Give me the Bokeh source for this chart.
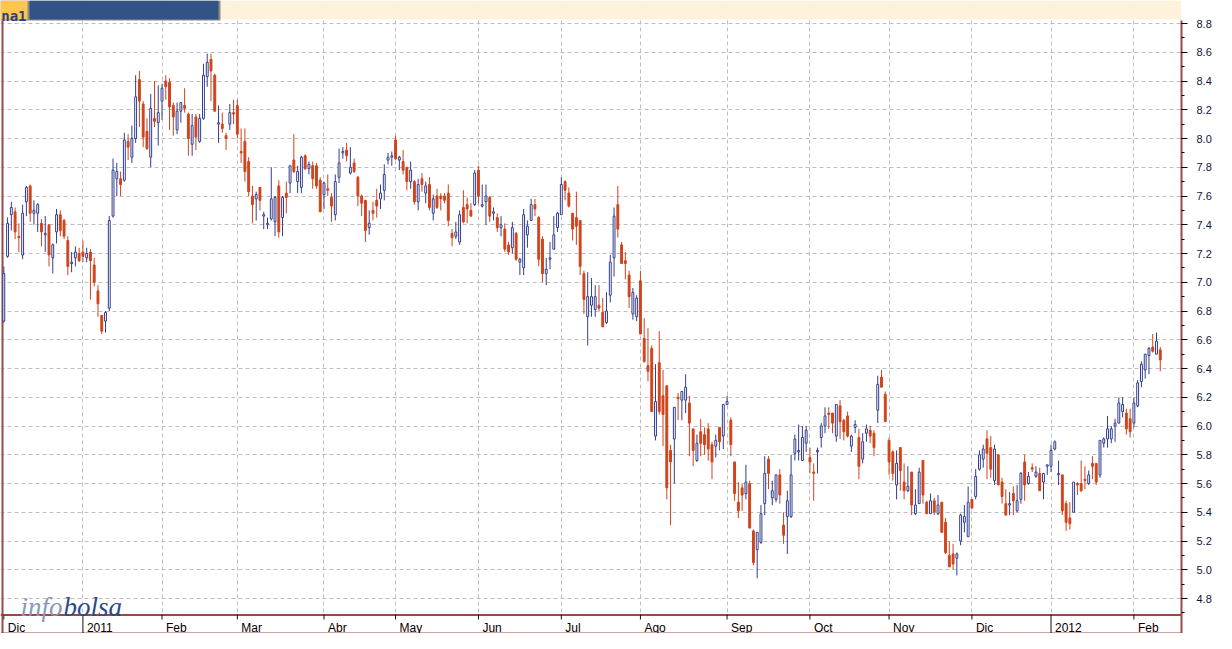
from bokeh.plotting import figure
from bokeh.models import ColumnDataSource, FixedTicker, LinearAxis, Grid, Range1d, PrintfTickFormatter
from bokeh.core.properties import value
from bokeh.embed import file_html
from bokeh.resources import INLINE

# ---------------- data (trading-day index, daily OHLC) ----------------
opens = [
    6.73, 7.18, 7.47, 7.49, 7.32, 7.19, 7.56, 7.67, 7.48, 7.48,
    7.41, 7.33, 7.40, 7.17, 7.35, 7.47, 7.43, 7.29, 7.13, 7.17,
    7.20, 7.21, 7.17, 7.21, 7.12, 6.94, 6.77, 6.73, 6.82, 7.46,
    7.72, 7.72, 7.71, 7.98, 7.87, 8.00, 8.41, 8.24, 8.05, 7.87,
    8.14, 8.11, 8.26, 8.40, 8.39, 8.23, 8.06, 8.19, 8.23, 8.17,
    7.96, 8.15, 7.98, 8.14, 8.43, 8.55, 8.44, 8.10, 8.10, 8.02,
    8.10, 8.18, 8.23, 7.91, 7.98, 7.84, 7.60, 7.58, 7.66, 7.46,
    7.40, 7.44, 7.42, 7.67, 7.45, 7.62, 7.69, 7.85, 7.70, 7.66,
    7.88, 7.79, 7.81, 7.81, 7.71, 7.61, 7.65, 7.59, 7.47, 7.73,
    7.90, 7.92, 7.76, 7.83, 7.73, 7.60, 7.57, 7.38, 7.50, 7.57,
    7.58, 7.64, 7.85, 7.87, 7.99, 7.85, 7.84, 7.80, 7.70, 7.70,
    7.56, 7.72, 7.62, 7.68, 7.48, 7.60, 7.60, 7.60, 7.62, 7.34,
    7.32, 7.28, 7.52, 7.54, 7.50, 7.54, 7.78, 7.53, 7.56, 7.59,
    7.48, 7.45, 7.38, 7.37, 7.26, 7.24, 7.34, 7.14, 7.10, 7.33,
    7.43, 7.54, 7.45, 7.30, 7.06, 7.16, 7.23, 7.38, 7.47, 7.70,
    7.62, 7.48, 7.45, 7.43, 7.06, 6.76, 6.84, 6.81, 6.84, 6.79,
    6.72, 6.91, 7.17, 7.54, 7.26, 7.15, 7.05, 6.78, 6.76, 7.01,
    6.61, 6.42, 6.54, 5.93, 6.44, 6.21, 6.28, 5.83, 5.91, 6.20,
    6.18, 6.18, 6.16, 5.98, 5.76, 5.96, 5.94, 5.98, 5.87, 5.86,
    5.99, 5.93, 6.15, 6.04, 5.75, 5.47, 5.57, 5.53, 5.60, 5.27,
    5.14, 5.19, 5.46, 5.77, 5.50, 5.49, 5.66, 5.31, 5.37, 5.37,
    5.81, 5.82, 5.76, 5.88, 5.78, 5.68, 5.82, 5.92, 6.00, 6.09,
    6.09, 5.93, 6.14, 6.04, 6.07, 5.86, 5.99, 5.92, 5.77, 5.95,
    5.97, 5.95, 6.11, 6.34, 6.22, 5.90, 5.82, 5.59, 5.85, 5.61,
    5.55, 5.68, 5.39, 5.46, 5.76, 5.47, 5.39, 5.48, 5.39, 5.47,
    5.33, 5.10, 5.11, 5.08, 5.20, 5.33, 5.23, 5.49, 5.51, 5.70,
    5.77, 5.91, 5.85, 5.62, 5.80, 5.61, 5.46, 5.45, 5.53, 5.41,
    5.49, 5.75, 5.60, 5.71, 5.65, 5.67, 5.61, 5.72, 5.72, 5.84,
    5.66, 5.66, 5.46, 5.36, 5.40, 5.60, 5.60, 5.63, 5.60, 5.74,
    5.74, 5.66, 5.88, 5.91, 5.91, 6.00, 6.02, 6.10, 6.09, 6.05,
    6.02, 6.14, 6.31, 6.39, 6.49, 6.55, 6.50, 6.53,
]
highs = [
    7.11, 7.45, 7.56, 7.52, 7.41, 7.54, 7.67, 7.68, 7.57, 7.55,
    7.44, 7.46, 7.40, 7.27, 7.51, 7.50, 7.44, 7.32, 7.21, 7.25,
    7.24, 7.29, 7.24, 7.23, 7.17, 6.98, 6.77, 6.80, 7.46, 7.86,
    7.83, 7.77, 8.04, 8.03, 8.09, 8.44, 8.47, 8.26, 8.14, 8.31,
    8.40, 8.37, 8.38, 8.44, 8.42, 8.25, 8.25, 8.25, 8.35, 8.18,
    8.17, 8.17, 8.17, 8.52, 8.59, 8.59, 8.45, 8.23, 8.18, 8.04,
    8.24, 8.27, 8.27, 8.07, 8.07, 7.87, 7.67, 7.63, 7.66, 7.49,
    7.45, 7.80, 7.60, 7.71, 7.60, 7.70, 7.81, 8.03, 7.81, 7.88,
    7.89, 7.84, 7.84, 7.83, 7.73, 7.70, 7.75, 7.62, 7.75, 7.93,
    7.94, 7.97, 7.94, 7.86, 7.74, 7.61, 7.57, 7.50, 7.56, 7.65,
    7.68, 7.82, 7.90, 7.91, 8.02, 7.88, 7.92, 7.80, 7.84, 7.71,
    7.72, 7.76, 7.70, 7.73, 7.61, 7.65, 7.62, 7.62, 7.68, 7.37,
    7.42, 7.50, 7.64, 7.59, 7.55, 7.78, 7.81, 7.68, 7.68, 7.60,
    7.52, 7.48, 7.46, 7.41, 7.28, 7.42, 7.35, 7.17, 7.51, 7.43,
    7.58, 7.58, 7.46, 7.32, 7.17, 7.28, 7.46, 7.49, 7.73, 7.71,
    7.66, 7.48, 7.63, 7.43, 7.08, 7.07, 7.03, 6.98, 6.98, 6.89,
    6.93, 7.19, 7.52, 7.67, 7.28, 7.21, 7.08, 6.96, 6.91, 7.08,
    6.75, 6.68, 6.56, 6.43, 6.66, 6.39, 6.28, 5.87, 6.13, 6.23,
    6.24, 6.36, 6.21, 5.98, 5.94, 6.05, 5.99, 6.02, 5.89, 5.94,
    5.99, 6.15, 6.21, 6.06, 5.75, 5.61, 5.60, 5.73, 5.62, 5.28,
    5.26, 5.45, 5.79, 5.79, 5.62, 5.66, 5.70, 5.40, 5.55, 5.80,
    5.94, 6.01, 6.00, 6.00, 5.85, 5.74, 5.85, 6.02, 6.13, 6.13,
    6.09, 6.15, 6.18, 6.05, 6.10, 5.94, 6.04, 5.98, 5.95, 6.01,
    6.00, 5.97, 6.35, 6.39, 6.24, 5.92, 5.83, 5.83, 5.85, 5.74,
    5.72, 5.68, 5.56, 5.71, 5.76, 5.48, 5.53, 5.50, 5.52, 5.47,
    5.36, 5.20, 5.18, 5.12, 5.39, 5.45, 5.58, 5.49, 5.70, 5.83,
    5.87, 5.97, 5.93, 5.87, 5.80, 5.64, 5.56, 5.54, 5.58, 5.59,
    5.68, 5.80, 5.68, 5.74, 5.72, 5.71, 5.67, 5.73, 5.87, 5.90,
    5.76, 5.66, 5.48, 5.47, 5.61, 5.61, 5.76, 5.72, 5.69, 5.79,
    5.74, 5.90, 5.92, 6.07, 6.00, 6.05, 6.20, 6.20, 6.12, 6.12,
    6.20, 6.32, 6.45, 6.50, 6.55, 6.64, 6.65, 6.55,
]
lows = [
    6.72, 7.17, 7.36, 7.30, 7.21, 7.16, 7.46, 7.42, 7.40, 7.35,
    7.25, 7.21, 7.11, 7.06, 7.27, 7.32, 7.30, 7.05, 7.07, 7.11,
    7.14, 7.14, 7.14, 6.88, 6.97, 6.76, 6.64, 6.65, 6.80, 7.45,
    7.60, 7.60, 7.70, 7.85, 7.83, 7.97, 8.08, 7.94, 7.92, 7.80,
    8.08, 7.95, 8.13, 8.27, 8.06, 8.02, 8.03, 8.11, 8.18, 7.88,
    7.88, 7.92, 7.97, 8.13, 8.36, 8.26, 8.19, 7.97, 8.04, 7.92,
    8.06, 8.10, 8.00, 7.83, 7.70, 7.60, 7.41, 7.43, 7.50, 7.37,
    7.37, 7.43, 7.32, 7.31, 7.32, 7.48, 7.62, 7.76, 7.62, 7.62,
    7.78, 7.75, 7.65, 7.65, 7.49, 7.51, 7.60, 7.42, 7.43, 7.69,
    7.86, 7.84, 7.75, 7.76, 7.53, 7.46, 7.28, 7.33, 7.43, 7.45,
    7.51, 7.57, 7.82, 7.81, 7.85, 7.78, 7.75, 7.64, 7.65, 7.54,
    7.50, 7.63, 7.55, 7.50, 7.43, 7.51, 7.50, 7.55, 7.39, 7.25,
    7.30, 7.26, 7.41, 7.41, 7.46, 7.53, 7.55, 7.52, 7.40, 7.42,
    7.43, 7.35, 7.32, 7.21, 7.19, 7.20, 7.15, 7.05, 7.05, 7.24,
    7.43, 7.46, 7.11, 7.00, 6.98, 7.09, 7.23, 7.35, 7.47, 7.57,
    7.52, 7.29, 7.26, 7.05, 6.78, 6.56, 6.76, 6.76, 6.80, 6.69,
    6.71, 6.86, 7.04, 7.31, 7.13, 7.02, 6.82, 6.74, 6.73, 6.64,
    6.44, 6.31, 6.10, 5.90, 6.08, 5.86, 5.49, 5.31, 5.60, 6.04,
    6.04, 6.09, 5.79, 5.72, 5.75, 5.79, 5.80, 5.76, 5.63, 5.78,
    5.83, 5.84, 6.15, 5.79, 5.48, 5.36, 5.41, 5.49, 5.29, 5.03,
    4.94, 5.18, 5.38, 5.56, 5.45, 5.47, 5.46, 5.18, 5.11, 5.36,
    5.76, 5.76, 5.76, 5.82, 5.67, 5.48, 5.67, 5.85, 5.95, 5.98,
    5.95, 5.89, 5.91, 5.90, 5.92, 5.82, 5.95, 5.63, 5.74, 5.89,
    5.88, 5.79, 6.02, 6.27, 6.03, 5.66, 5.62, 5.49, 5.55, 5.49,
    5.54, 5.38, 5.38, 5.46, 5.46, 5.39, 5.39, 5.38, 5.38, 5.26,
    5.11, 5.02, 5.00, 4.96, 5.17, 5.26, 5.23, 5.42, 5.49, 5.69,
    5.71, 5.63, 5.64, 5.59, 5.59, 5.46, 5.38, 5.38, 5.38, 5.40,
    5.46, 5.48, 5.59, 5.68, 5.64, 5.55, 5.49, 5.66, 5.68, 5.83,
    5.59, 5.38, 5.27, 5.28, 5.40, 5.52, 5.54, 5.56, 5.59, 5.63,
    5.59, 5.64, 5.85, 5.85, 5.88, 5.89, 6.02, 6.06, 5.94, 5.92,
    5.99, 6.13, 6.27, 6.33, 6.36, 6.51, 6.50, 6.38,
]
closes = [
    7.06, 7.41, 7.52, 7.35, 7.31, 7.48, 7.66, 7.48, 7.50, 7.54,
    7.35, 7.34, 7.19, 7.26, 7.47, 7.36, 7.32, 7.11, 7.14, 7.21,
    7.15, 7.18, 7.20, 7.15, 7.00, 6.85, 6.66, 6.79, 7.43, 7.78,
    7.77, 7.68, 7.99, 7.94, 8.00, 8.29, 8.26, 8.01, 7.93, 8.21,
    8.12, 8.18, 8.35, 8.36, 8.22, 8.15, 8.19, 8.25, 8.21, 8.00,
    8.09, 8.01, 8.14, 8.44, 8.53, 8.47, 8.19, 8.11, 8.07, 8.00,
    8.18, 8.17, 8.03, 7.90, 7.77, 7.63, 7.54, 7.61, 7.57, 7.47,
    7.41, 7.58, 7.59, 7.35, 7.59, 7.59, 7.81, 7.77, 7.77, 7.87,
    7.79, 7.82, 7.72, 7.67, 7.49, 7.69, 7.64, 7.53, 7.70, 7.83,
    7.91, 7.88, 7.80, 7.77, 7.60, 7.55, 7.36, 7.41, 7.48, 7.53,
    7.62, 7.75, 7.87, 7.88, 7.86, 7.87, 7.78, 7.70, 7.78, 7.56,
    7.68, 7.68, 7.67, 7.52, 7.58, 7.52, 7.58, 7.57, 7.43, 7.31,
    7.35, 7.47, 7.42, 7.51, 7.46, 7.76, 7.60, 7.54, 7.60, 7.46,
    7.49, 7.38, 7.40, 7.23, 7.21, 7.38, 7.16, 7.16, 7.47, 7.39,
    7.54, 7.51, 7.16, 7.06, 7.09, 7.17, 7.33, 7.48, 7.68, 7.64,
    7.53, 7.37, 7.39, 7.11, 6.88, 6.90, 6.90, 6.90, 6.82, 6.69,
    6.80, 7.14, 7.46, 7.37, 7.13, 7.13, 6.90, 6.93, 6.89, 6.64,
    6.45, 6.38, 6.10, 6.17, 6.10, 6.08, 5.57, 5.75, 6.13, 6.19,
    6.24, 6.27, 6.02, 5.83, 5.88, 5.88, 5.87, 5.84, 5.75, 5.90,
    5.89, 6.15, 6.17, 5.87, 5.53, 5.41, 5.52, 5.61, 5.29, 5.05,
    5.26, 5.39, 5.67, 5.67, 5.55, 5.66, 5.52, 5.24, 5.48, 5.66,
    5.91, 5.83, 5.92, 5.97, 5.75, 5.67, 5.83, 6.00, 6.07, 6.08,
    6.02, 6.15, 6.03, 5.96, 5.93, 5.93, 6.01, 5.72, 5.89, 5.98,
    5.93, 5.85, 6.29, 6.27, 6.03, 5.75, 5.67, 5.74, 5.69, 5.55,
    5.58, 5.45, 5.45, 5.68, 5.52, 5.39, 5.48, 5.40, 5.45, 5.26,
    5.12, 5.02, 5.04, 5.11, 5.38, 5.37, 5.47, 5.43, 5.65, 5.80,
    5.84, 5.81, 5.70, 5.84, 5.59, 5.51, 5.38, 5.46, 5.48, 5.48,
    5.67, 5.59, 5.65, 5.70, 5.68, 5.55, 5.67, 5.73, 5.83, 5.89,
    5.67, 5.41, 5.33, 5.32, 5.61, 5.59, 5.55, 5.62, 5.66, 5.72,
    5.61, 5.90, 5.91, 5.98, 5.98, 6.02, 6.16, 6.15, 5.98, 5.96,
    6.16, 6.30, 6.43, 6.50, 6.54, 6.52, 6.59, 6.46,
]

# month boundaries (trading-day index) and their labels
month_pos = [0, 21, 42, 62, 85, 104, 126, 148, 169, 192, 214, 235, 257, 278, 300]
month_labels = ["Dic", "2011", "Feb", "Mar", "Abr", "May", "Jun", "Jul",
                "Ago", "Sep", "Oct", "Nov", "Dic", "2012", "Feb"]
year_labels = ["2011", "2012"]

price_ticks = [4.8, 5.0, 5.2, 5.4, 5.6, 5.8, 6.0, 6.2, 6.4, 6.6, 6.8,
               7.0, 7.2, 7.4, 7.6, 7.8, 8.0, 8.2, 8.4, 8.6, 8.8]
minor_levels = [4.7, 4.8, 4.9, 5.0, 5.1, 5.2, 5.3, 5.4, 5.5, 5.6, 5.7, 5.8, 5.9,
                6.0, 6.1, 6.2, 6.3, 6.4, 6.5, 6.6, 6.7, 6.8, 6.9, 7.0, 7.1, 7.2, 7.3,
                7.4, 7.5, 7.6, 7.7, 7.8, 7.9, 8.0, 8.1, 8.2, 8.3, 8.4, 8.5, 8.6, 8.7, 8.8]

# ---------------- layout constants (pixels) ----------------
W, H = 1216, 633
AXIS_W = 35
FRAME_W = W - AXIS_W
PX_PER_DAY = 3.767
X0 = -3.3 / PX_PER_DAY
X1 = X0 + FRAME_W / PX_PER_DAY
PX_PER_UNIT = 143.75
Y_TOP = 8.8 + 23 / PX_PER_UNIT
Y_BOT = Y_TOP - H / PX_PER_UNIT
HEADER_H = 20
BOX_TOP = 614


def dx(px):
    return X0 + px / PX_PER_DAY


def dy(py):
    return Y_TOP - py / PX_PER_UNIT


BLUE = "#323E8E"
RED = "#D0441B"
BROWN = "#9A4848"
GRIDC = "#BEBEBE"
CREAM = "#FFF2DA"

p = figure(width=W, height=H, x_range=Range1d(X0, X1), y_range=Range1d(Y_BOT, Y_TOP),
           toolbar_location=None, output_backend="svg", title=None,
           x_axis_location=None, y_axis_location=None,
           min_border_left=0, min_border_right=AXIS_W, min_border_top=0, min_border_bottom=0,
           background_fill_color="white", border_fill_color="white")
p.outline_line_color = None
for g in list(p.renderers) + list(p.center):
    if isinstance(g, Grid):
        g.visible = False

p.add_layout(Grid(dimension=1, ticker=FixedTicker(ticks=price_ticks),
                  grid_line_color=GRIDC, grid_line_dash="4 3", grid_line_width=1))
p.add_layout(Grid(dimension=0, ticker=FixedTicker(ticks=month_pos[1:]),
                  grid_line_color=GRIDC, grid_line_dash="4 3", grid_line_width=1))

# right price axis
yaxis = LinearAxis(ticker=FixedTicker(ticks=price_ticks, minor_ticks=minor_levels),
                   formatter=PrintfTickFormatter(format="%.1f"),
                   bounds=(Y_BOT, dy(HEADER_H)))
yaxis.axis_line_color = BROWN
yaxis.axis_line_width = 2
yaxis.major_tick_in = 0
yaxis.major_tick_out = 6
yaxis.minor_tick_in = 0
yaxis.minor_tick_out = 3
yaxis.major_tick_line_color = "black"
yaxis.minor_tick_line_color = "black"
yaxis.major_label_standoff = 9
yaxis.major_label_text_font = "Liberation Sans"
yaxis.major_label_text_font_size = "11px"
yaxis.major_label_text_color = "#14143A"
p.add_layout(yaxis, "right")

# header band
p.quad(left=[dx(0)], right=[X1], bottom=[dy(19)], top=[Y_TOP], fill_color=CREAM, line_color=None)
p.quad(left=[dx(0)], right=[dx(220)], bottom=[dy(20)], top=[Y_TOP], fill_color="#8C8C8C", line_color=None)
p.quad(left=[dx(0)], right=[dx(27)], bottom=[dy(19)], top=[Y_TOP], fill_color="#FFC54E", line_color=None)
p.quad(left=[dx(29)], right=[dx(218)], bottom=[dy(19)], top=[Y_TOP], fill_color="#325386", line_color=None)
p.text(x=[dx(26)], y=[dy(15)], text=["na1"], text_align="right", text_baseline="alphabetic",
       text_font=value("DejaVu Sans Mono"), text_font_style="bold", text_font_size="14px",
       text_color="#2E3F7F")

# bottom month box
p.quad(left=[X0], right=[X1], bottom=[Y_BOT], top=[dy(BOX_TOP)], fill_color="white", line_color=None)
p.segment(x0=[X0], y0=[dy(BOX_TOP + 0.5)], x1=[X1], y1=[dy(BOX_TOP + 0.5)], line_color=BROWN, line_width=2)
p.segment(x0=[X0], y0=[dy(H - 0.5)], x1=[X1], y1=[dy(H - 0.5)], line_color=BROWN, line_width=1)
tick_y1 = [Y_BOT if lab in year_labels else dy(BOX_TOP + 5) for lab in month_labels]
p.segment(x0=month_pos, y0=[dy(BOX_TOP)] * len(month_pos), x1=month_pos, y1=tick_y1,
          line_color="#111111", line_width=1)
label_x = [m + 4 / PX_PER_DAY for m in month_pos]
p.text(x=label_x, y=[dy(627)] * len(month_pos), text=month_labels,
       text_align="left", text_baseline="alphabetic", text_font=value("Liberation Sans"),
       text_font_size="12px", text_color="black")

# left border
p.segment(x0=[dx(2)], y0=[dy(HEADER_H)], x1=[dx(2)], y1=[Y_BOT], line_color=BROWN, line_width=2)

# logo
p.text(x=[dx(62)], y=[dy(606)], text=["info"], text_align="right", text_baseline="alphabetic",
       text_font=value("Liberation Serif"), text_font_style="italic", text_font_size="27px",
       text_color="#8E96B8")
p.text(x=[dx(63)], y=[dy(606)], text=["bolsa"], text_align="left", text_baseline="alphabetic",
       text_font=value("Liberation Serif"), text_font_style="italic", text_font_size="27px",
       text_color="#2C4A87")

# candles
n = min(len(opens), len(highs), len(lows), len(closes))
up = [i for i in range(n) if closes[i] >= opens[i]]
dn = [i for i in range(n) if closes[i] < opens[i]]
src_up = ColumnDataSource(dict(x=up, top=[closes[i] for i in up], bottom=[opens[i] for i in up],
                               high=[highs[i] for i in up], low=[lows[i] for i in up]))
src_dn = ColumnDataSource(dict(x=dn, top=[opens[i] for i in dn], bottom=[closes[i] for i in dn],
                               high=[highs[i] for i in dn], low=[lows[i] for i in dn]))
p.segment(x0="x", y0="low", x1="x", y1="high", source=src_up, line_color=BLUE, line_width=1)
p.segment(x0="x", y0="low", x1="x", y1="high", source=src_dn, line_color=RED, line_width=1)
p.vbar(x="x", width=0.5, top="top", bottom="bottom", source=src_up,
       fill_color="white", line_color=BLUE, line_width=1)
p.vbar(x="x", width=0.5, top="top", bottom="bottom", source=src_dn,
       fill_color=RED, line_color=RED, line_width=1)

open("out.html", "w").write(file_html(p, INLINE))
